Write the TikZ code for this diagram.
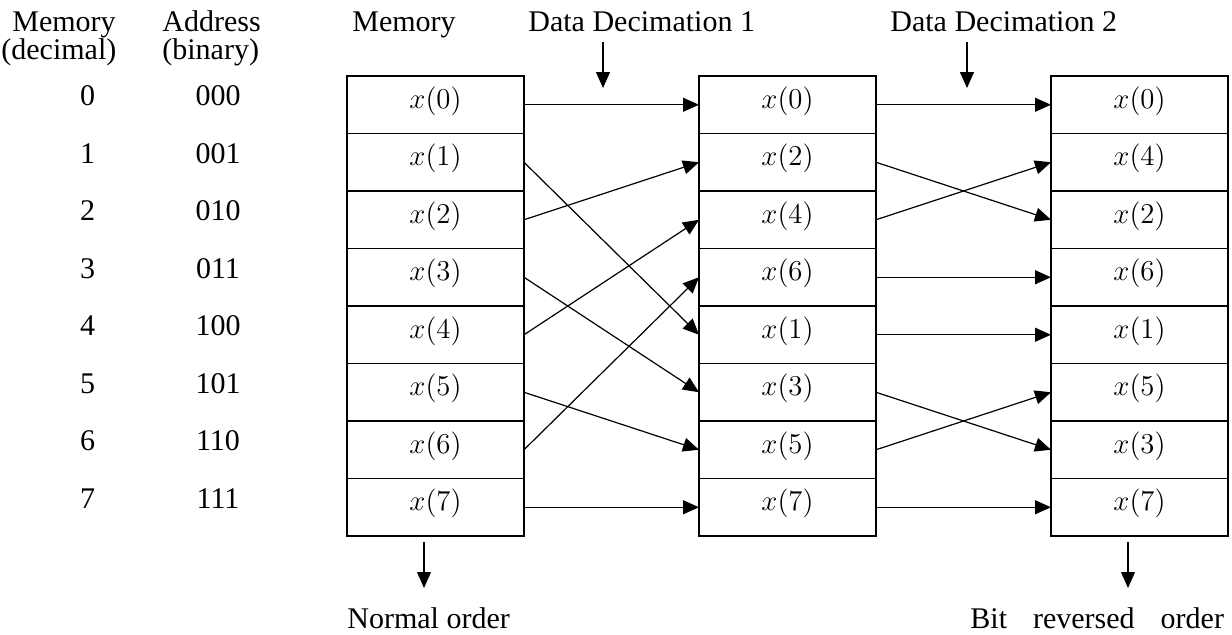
\documentclass[tikz,border=0pt]{standalone}
\usepackage{fontspec}
\setmainfont{Liberation Serif}
\usetikzlibrary{arrows.meta,positioning}

\begin{document}
\begin{tikzpicture}[x=0.5pt, y=-0.5pt, node distance=0pt, font=\fontsize{15}{18}\selectfont]
    \tikzstyle{cell} = [rectangle, draw, line width=0.8pt, minimum width=88.5pt, minimum height=28.75pt, inner sep=0pt, outer sep=0pt, text height=9.5pt, text depth=6pt]
    \tikzstyle{txt} = [inner sep=0pt, anchor=base west]
    \tikzstyle{num} = [inner sep=0pt]
    \tikzstyle{link} = [-{Triangle[length=8pt, width=7pt]}, line width=0.6pt]

    \useasboundingbox (0,0) rectangle (1232,634);

    % Headings
    \node[txt] (hmem) at (12,31) {Memory};
    \node[txt] (hdec) at (1,59.5) {(decimal)};
    \node[txt] (haddr) at (162,31) {Address};
    \node[txt] (hbin) at (162,59.5) {(binary)};
    \node[txt] (hmemory) at (352,31) {Memory};
    \node[txt] (hdd1) at (528,31) {Data Decimation 1};
    \node[txt] (hdd2) at (890,31) {Data Decimation 2};
    \node[txt] (normal) at (347,628) {Normal order};
    \node[txt] (bitrev) at (970,628) {Bit\hspace{13pt}reversed\hspace{13pt}order};

    % Addresses
    \node[num] (n0) at (87.5,96) {0};
    \node[num] (n1) at (87.5,153.5) {1};
    \node[num] (n2) at (87.5,211) {2};
    \node[num] (n3) at (87.5,268.5) {3};
    \node[num] (n4) at (87.5,326) {4};
    \node[num] (n5) at (87.5,383.5) {5};
    \node[num] (n6) at (87.5,441) {6};
    \node[num] (n7) at (87.5,498.5) {7};
    \node[num] (b0) at (218,96) {000};
    \node[num] (b1) at (218,153.5) {001};
    \node[num] (b2) at (218,211) {010};
    \node[num] (b3) at (218,268.5) {011};
    \node[num] (b4) at (218,326) {100};
    \node[num] (b5) at (218,383.5) {101};
    \node[num] (b6) at (218,441) {110};
    \node[num] (b7) at (218,498.5) {111};

    % Memory
    \node[cell] (m0) at (435.5,104.75) {$x(0)$};
    \node[cell] (m1) [below=of m0] {$x(1)$};
    \node[cell] (m2) [below=of m1] {$x(2)$};
    \node[cell] (m3) [below=of m2] {$x(3)$};
    \node[cell] (m4) [below=of m3] {$x(4)$};
    \node[cell] (m5) [below=of m4] {$x(5)$};
    \node[cell] (m6) [below=of m5] {$x(6)$};
    \node[cell] (m7) [below=of m6] {$x(7)$};

    % Data Decimation 1
    \node[cell] (d0) at (787.5,104.75) {$x(0)$};
    \node[cell] (d1) [below=of d0] {$x(2)$};
    \node[cell] (d2) [below=of d1] {$x(4)$};
    \node[cell] (d3) [below=of d2] {$x(6)$};
    \node[cell] (d4) [below=of d3] {$x(1)$};
    \node[cell] (d5) [below=of d4] {$x(3)$};
    \node[cell] (d6) [below=of d5] {$x(5)$};
    \node[cell] (d7) [below=of d6] {$x(7)$};

    % Data Decimation 2
    \node[cell] (r0) at (1139.5,104.75) {$x(0)$};
    \node[cell] (r1) [below=of r0] {$x(4)$};
    \node[cell] (r2) [below=of r1] {$x(2)$};
    \node[cell] (r3) [below=of r2] {$x(6)$};
    \node[cell] (r4) [below=of r3] {$x(1)$};
    \node[cell] (r5) [below=of r4] {$x(5)$};
    \node[cell] (r6) [below=of r5] {$x(3)$};
    \node[cell] (r7) [below=of r6] {$x(7)$};

    % Pointers
    \coordinate (dd1a) at (603,42);
    \coordinate (dd1b) at (603,88);
    \coordinate (dd2a) at (967,42);
    \coordinate (dd2b) at (967,88);
    \coordinate (nora) at (424,542);
    \coordinate (norb) at (424,588);
    \coordinate (reva) at (1128,542);
    \coordinate (revb) at (1128,588);
    \draw[link] (dd1a) -- (dd1b);
    \draw[link] (dd2a) -- (dd2b);
    \draw[link] (nora) -- (norb);
    \draw[link] (reva) -- (revb);

    % First stage
    \draw[link] (m0.east) -- (d0.west);
    \draw[link] (m1.east) -- (d4.west);
    \draw[link] (m2.east) -- (d1.west);
    \draw[link] (m3.east) -- (d5.west);
    \draw[link] (m4.east) -- (d2.west);
    \draw[link] (m5.east) -- (d6.west);
    \draw[link] (m6.east) -- (d3.west);
    \draw[link] (m7.east) -- (d7.west);

    % Second stage
    \draw[link] (d0.east) -- (r0.west);
    \draw[link] (d1.east) -- (r2.west);
    \draw[link] (d2.east) -- (r1.west);
    \draw[link] (d3.east) -- (r3.west);
    \draw[link] (d4.east) -- (r4.west);
    \draw[link] (d5.east) -- (r6.west);
    \draw[link] (d6.east) -- (r5.west);
    \draw[link] (d7.east) -- (r7.west);
\end{tikzpicture}
\end{document}
